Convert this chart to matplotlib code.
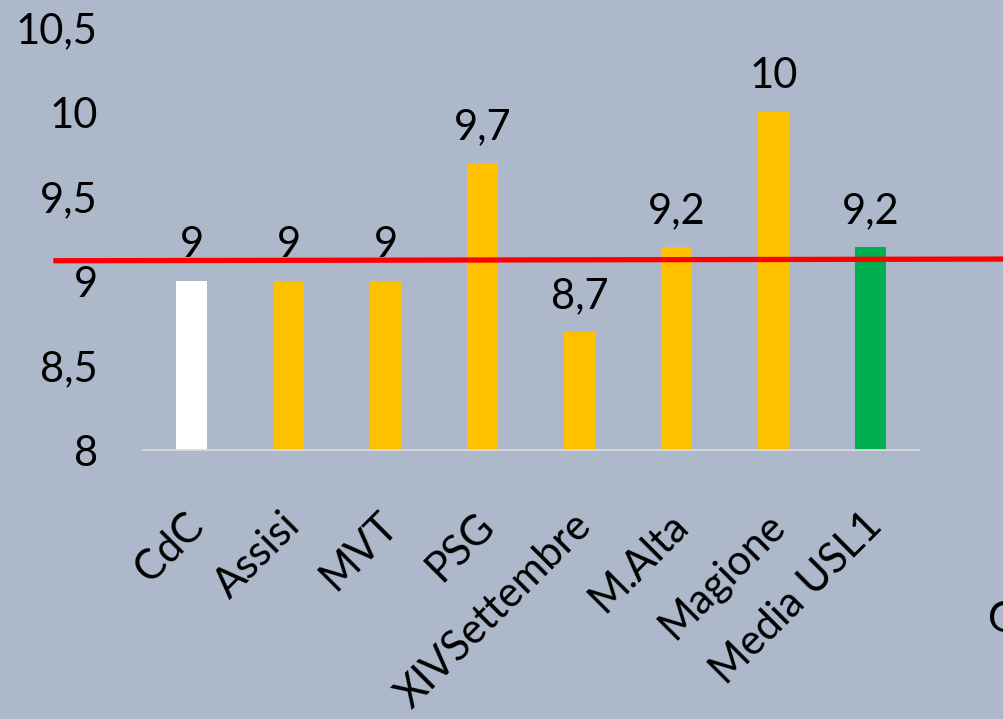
import matplotlib
matplotlib.use("Agg")
import matplotlib.pyplot as plt
import matplotlib.transforms as mtransforms

categories = ["CdC", "Assisi", "MVT", "PSG", "XIVSettembre", "M.Alta", "Magione", "Media USL1"]
values = [9.0, 9.0, 9.0, 9.7, 8.7, 9.2, 10.0, 9.2]
bar_colors = ["#FFFFFF", "#FFC000", "#FFC000", "#FFC000", "#FFC000", "#FFC000", "#FFC000", "#00B050"]
ref_x = [-1.43, 8.4]
ref_y = [9.12, 9.13]
yticks = [8, 8.5, 9, 9.5, 10, 10.5]
ytick_labels = ["8", "8,5", "9", "9,5", "10", "10,5"]

def fmt(v):
    s = ("%g" % v)
    return s.replace(".", ",")

bg = "#ADB9CA"
plt.rcParams["font.family"] = ["Lato", "DejaVu Sans"]
FS = 30

fig = plt.figure(figsize=(10.04, 7.19), dpi=100, facecolor=bg)
ax = fig.add_axes([0.1429, 0.3741, 0.7729, 0.5876])
ax.set_facecolor(bg)

x = list(range(len(categories)))
ax.bar(x, values, width=0.32, color=bar_colors, bottom=0, zorder=2)
ax.set_xlim(-0.5, 7.5)
ax.set_ylim(8, 10.5)

for sp in ["left", "right", "top"]:
    ax.spines[sp].set_visible(False)
ax.spines["bottom"].set_color("#D9D9D9")
ax.spines["bottom"].set_linewidth(1.3)
ax.spines["bottom"].set_zorder(3)

ax.set_yticks(yticks)
ax.set_yticklabels(ytick_labels, fontsize=FS)
ax.tick_params(axis="y", length=0, pad=33)

ax.set_xticks(x)
ax.set_xticklabels(categories, fontsize=FS, rotation=45, ha="right", va="center",
                   rotation_mode="anchor")
ax.tick_params(axis="x", length=0, pad=50)
offset = mtransforms.ScaledTranslation(5 / 100, 0, fig.dpi_scale_trans)
for lbl in ax.get_xticklabels():
    lbl.set_transform(lbl.get_transform() + offset)

for xi, v in zip(x, values):
    ax.annotate(fmt(v), (xi, v), xytext=(0, 17), textcoords="offset points",
                ha="center", va="baseline", fontsize=FS, color="black", zorder=5)

ax.plot(ref_x, ref_y, color="#FF0000", linewidth=3.8, clip_on=False, zorder=4,
        solid_capstyle="butt")

fig.text(988 / 1004, 1 - 620 / 719, "G", fontsize=FS, ha="left", va="center")

fig.savefig("out.png", dpi=100, facecolor=bg)
